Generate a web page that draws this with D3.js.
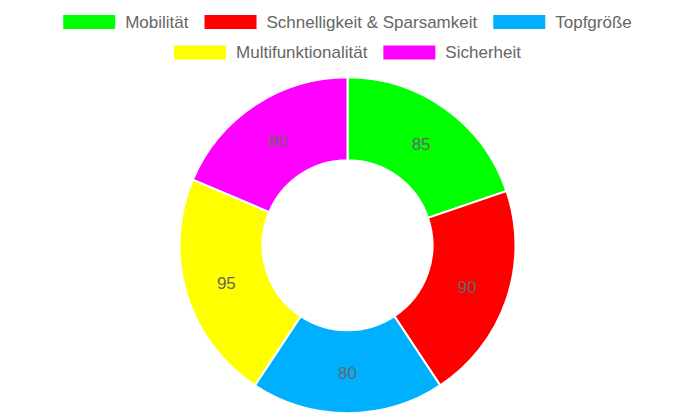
<!DOCTYPE html>
<html><head><meta charset="utf-8">
<script src="https://cdn.jsdelivr.net/npm/d3@7"></script>
<style>body{margin:0;background:#fff}svg{display:block;font-family:"Liberation Sans",Arial,sans-serif}</style>
</head><body>
<svg id="c" width="695" height="417"></svg>
<script>
const categories = ["Mobilität","Schnelligkeit & Sparsamkeit","Topfgröße","Multifunktionalität","Sicherheit"];
const values = [85, 90, 80, 95, 80];
const colors = ["#00ff00","#ff0000","#00b0ff","#ffff00","#ff00ff"];
const legendRows = [[0,1,2],[3,4]];

const svg = d3.select("#c");
const W = 695, cx = 347.5, cy = 245.3, R = 168, r = 85;

const pie = d3.pie().sort(null).value(d => d)(values);
const arc = d3.arc().innerRadius(r).outerRadius(R);
const g = svg.append("g").attr("transform", `translate(${cx},${cy})`);
g.selectAll("path").data(pie).join("path")
  .attr("d", arc).attr("fill", (d,i) => colors[i])
  .attr("stroke", "#fff").attr("stroke-width", 2);
g.selectAll("text").data(pie).join("text")
  .attr("transform", d => `translate(${arc.centroid(d)})`)
  .attr("text-anchor","middle").attr("dy","0.43em")
  .attr("font-size", 17).attr("fill", "#666")
  .text(d => d.data);

// legend
const boxW = 52, boxH = 14, gapT = 10, gapI = 16;
const rowY = [22, 52.5];
legendRows.forEach((row, ri) => {
  const lg = svg.append("g");
  let x = 0;
  row.forEach(i => {
    const it = lg.append("g").attr("transform", `translate(${x},0)`);
    it.append("rect").attr("x",0).attr("y",rowY[ri]-boxH/2).attr("width",boxW).attr("height",boxH).attr("fill",colors[i]);
    const t = it.append("text").attr("x", boxW+gapT).attr("y", rowY[ri]).attr("dy","0.35em")
      .attr("font-size",17).attr("fill","#666").text(categories[i]);
    x += boxW + gapT + t.node().getComputedTextLength() + gapI;
  });
  const total = x - gapI;
  lg.attr("transform", `translate(${cx - total/2},0)`);
});
</script>
</body></html>
